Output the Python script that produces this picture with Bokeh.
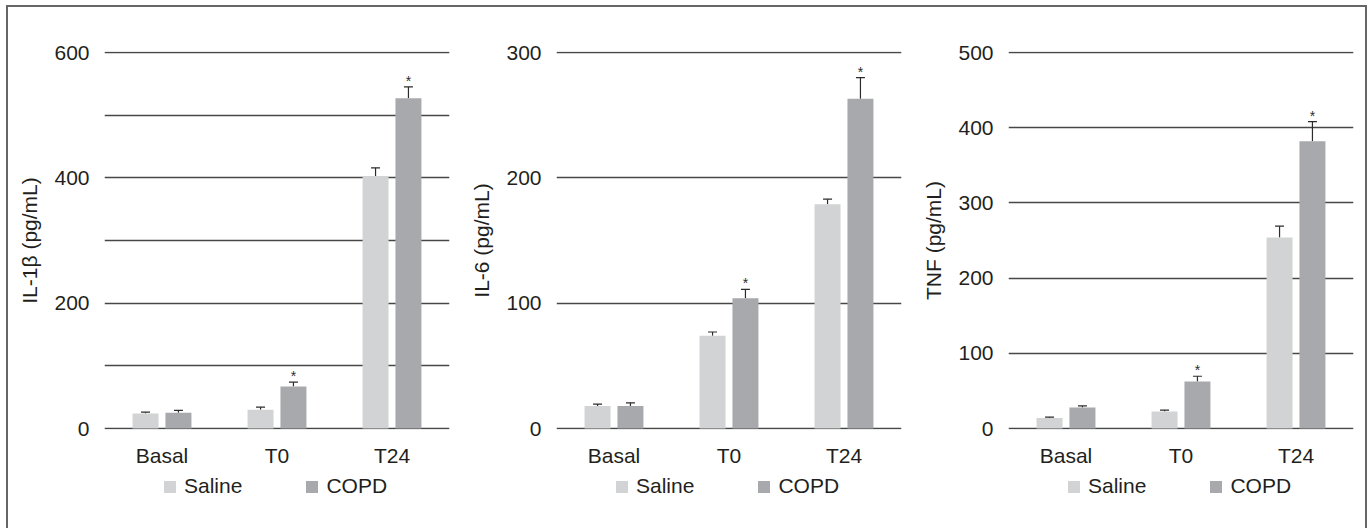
from bokeh.plotting import figure
from bokeh.models import (ColumnDataSource, FactorRange, Range1d, FixedTicker,
                          Legend, LegendItem, Whisker, TeeHead)
from bokeh.transform import dodge
from bokeh.layouts import row, column
from bokeh.embed import file_html
from bokeh.resources import INLINE

# ---------------- data ----------------
categories = ["Basal", "T0", "T24"]
series_names = ["Saline", "COPD"]

il1b_saline = [24, 30, 403]
il1b_saline_err = [2, 4, 13]
il1b_copd = [25, 67, 527]
il1b_copd_err = [4, 7, 18]
il1b_star = ["", "*", "*"]

il6_saline = [18, 74, 179]
il6_saline_err = [1.5, 3, 4]
il6_copd = [18, 104, 263]
il6_copd_err = [2.5, 7, 17]
il6_star = ["", "*", "*"]

tnf_saline = [14, 22.5, 254]
tnf_saline_err = [1, 2, 15]
tnf_copd = [28, 62.5, 382]
tnf_copd_err = [2, 7, 26]
tnf_star = ["", "*", "*"]

il1b_ymax, il1b_grid, il1b_labels = 600, [0, 100, 200, 300, 400, 500, 600], [0, 200, 400, 600]
il6_ymax, il6_grid, il6_labels = 300, [0, 100, 200, 300], [0, 100, 200, 300]
tnf_ymax, tnf_grid, tnf_labels = 500, [0, 100, 200, 300, 400, 500], [0, 100, 200, 300, 400, 500]

# ---------------- style ----------------
FONT = "Liberation Sans"
SALINE_C = "#d1d3d4"
COPD_C = "#a7a9ac"
GRID_C = "#474747"
TEXT_C = "#231f20"
ERR_C = "#2b2b2b"
BORDER_C = "#666666"
OFF = 0.143
BAR_W = 0.226
FRAME_H = 378
FIG_H = 465
LEG_H = 56
WIDTHS = [452, 452, 453]


def make_source(saline, saline_err, copd, copd_err, star):
    return ColumnDataSource(dict(
        cat=categories,
        saline=saline,
        saline_hi=[v + e for v, e in zip(saline, saline_err)],
        copd=copd,
        copd_hi=[v + e for v, e in zip(copd, copd_err)],
        star=star,
    ))


def panel(title, src, ymax, grid, labels, width):
    pad = ymax / (FRAME_H - 2)
    p = figure(x_range=FactorRange(*categories, range_padding=0),
               y_range=Range1d(-pad, ymax + pad),
               width=width, height=FIG_H, output_backend="svg", toolbar_location=None,
               min_border_left=96, min_border_right=width - 96 - 345,
               min_border_top=44, min_border_bottom=FIG_H - 44 - FRAME_H)
    p.outline_line_color = None
    p.background_fill_color = "white"
    p.border_fill_color = "white"

    p.vbar(x=dodge("cat", -OFF, range=p.x_range), top="saline", width=BAR_W,
           source=src, fill_color=SALINE_C, line_color=None)
    p.vbar(x=dodge("cat", OFF, range=p.x_range), top="copd", width=BAR_W,
           source=src, fill_color=COPD_C, line_color=None)

    for off, lo, hi in [(-OFF, "saline", "saline_hi"), (OFF, "copd", "copd_hi")]:
        w = Whisker(source=src, base=dodge("cat", off, range=p.x_range), lower=lo, upper=hi,
                    dimension="height", line_color=ERR_C, line_width=1.2,
                    upper_head=TeeHead(size=9, line_color=ERR_C, line_width=1.2),
                    lower_head=None)
        p.add_layout(w)

    p.text(x=dodge("cat", OFF, range=p.x_range), y="copd_hi", text="star", source=src,
           text_align="center", text_baseline="alphabetic", y_offset=-6,
           text_font_size="14px", text_color=ERR_C, text_font={"value": FONT})

    p.xgrid.visible = False
    p.ygrid.ticker = FixedTicker(ticks=grid)
    p.ygrid.grid_line_color = GRID_C
    p.ygrid.grid_line_width = 1.4

    yax = p.yaxis[0]
    yax.ticker = FixedTicker(ticks=labels)
    yax.axis_line_color = None
    yax.major_tick_line_color = None
    yax.minor_tick_line_color = None
    yax.major_tick_out = 0
    yax.major_tick_in = 0
    yax.major_label_standoff = 15
    yax.major_label_text_font = FONT
    yax.major_label_text_font_size = "21px"
    yax.major_label_text_color = TEXT_C
    yax.axis_label = title
    yax.axis_label_text_font = FONT
    yax.axis_label_text_font_size = "21px"
    yax.axis_label_text_font_style = "normal"
    yax.axis_label_text_color = TEXT_C
    yax.axis_label_standoff = 10

    xax = p.xaxis[0]
    xax.axis_line_color = None
    xax.major_tick_line_color = None
    xax.major_tick_out = 0
    xax.major_tick_in = 0
    xax.major_label_standoff = 14
    xax.major_label_text_font = FONT
    xax.major_label_text_font_size = "21px"
    xax.major_label_text_color = TEXT_C
    return p


def legend_fig(src, width):
    # legend strip below a panel: same bar renderers, hidden, used only for the key
    f = figure(x_range=FactorRange(*categories), y_range=Range1d(-2, -1),
               width=width, height=LEG_H, output_backend="svg", toolbar_location=None,
               min_border_left=152, min_border_right=0, min_border_top=0,
               min_border_bottom=0, x_axis_type=None, y_axis_type=None)
    f.grid.visible = False
    f.outline_line_color = None
    f.background_fill_color = "white"
    f.border_fill_color = "white"
    r_s = f.vbar(x=dodge("cat", -OFF, range=f.x_range), top="saline", width=BAR_W,
                 source=src, fill_color=SALINE_C, line_color=None)
    r_c = f.vbar(x=dodge("cat", OFF, range=f.x_range), top="copd", width=BAR_W,
                 source=src, fill_color=COPD_C, line_color=None)
    r_s.visible = False
    r_c.visible = False
    legend = Legend(items=[LegendItem(label=series_names[0], renderers=[r_s]),
                           LegendItem(label=series_names[1], renderers=[r_c])],
                    orientation="horizontal", location="top_left",
                    glyph_width=15, glyph_height=15, label_standoff=7, spacing=62,
                    padding=0, margin=2, border_line_color=None,
                    background_fill_alpha=0, inactive_fill_alpha=0,
                    label_text_font=FONT, label_text_font_size="21px",
                    label_text_color=TEXT_C)
    f.add_layout(legend)
    return f


src1 = make_source(il1b_saline, il1b_saline_err, il1b_copd, il1b_copd_err, il1b_star)
src2 = make_source(il6_saline, il6_saline_err, il6_copd, il6_copd_err, il6_star)
src3 = make_source(tnf_saline, tnf_saline_err, tnf_copd, tnf_copd_err, tnf_star)

p1 = panel("IL-1\u03b2 (pg/mL)", src1, il1b_ymax, il1b_grid, il1b_labels, WIDTHS[0])
p2 = panel("IL-6 (pg/mL)", src2, il6_ymax, il6_grid, il6_labels, WIDTHS[1])
p3 = panel("TNF (pg/mL)", src3, tnf_ymax, tnf_grid, tnf_labels, WIDTHS[2])

layout = column(
    row(p1, p2, p3),
    row(legend_fig(src1, WIDTHS[0]), legend_fig(src2, WIDTHS[1]), legend_fig(src3, WIDTHS[2])),
    styles={
        "margin-left": "6px", "margin-top": "5px",
        "border-top": "2px solid " + BORDER_C,
        "border-left": "2px solid " + BORDER_C,
        "border-right": "2px solid " + BORDER_C,
    },
)

open("out.html", "w").write(file_html(layout, INLINE))
